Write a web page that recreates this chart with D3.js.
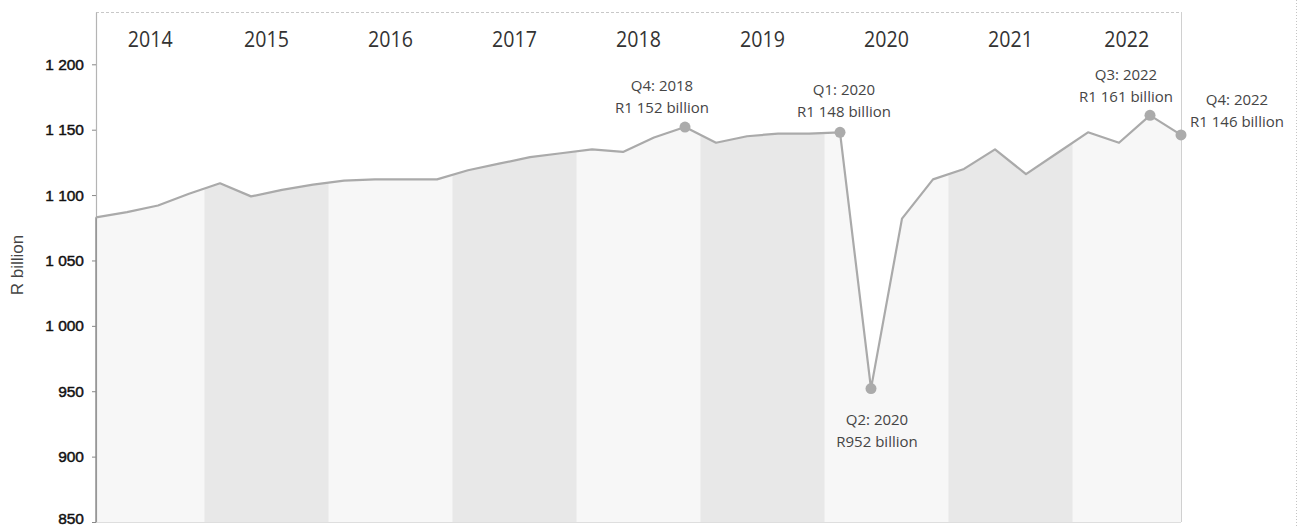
<!DOCTYPE html>
<html>
<head>
<meta charset="utf-8">
<script src="https://cdn.jsdelivr.net/npm/d3@7"></script>
<style>
  html, body { margin: 0; padding: 0; background: #ffffff; }
  svg { display: block; }
</style>
</head>
<body>
<svg id="chart" width="1302" height="528"></svg>
<script>
// Real GDP, quarterly, R billion (constant prices)
const years = [2014, 2015, 2016, 2017, 2018, 2019, 2020, 2021, 2022];
const quarterNames = ["Q1", "Q2", "Q3", "Q4"];
const gdpValues = [
  1083, 1087, 1092, 1101,   // 2014
  1109, 1099, 1104, 1108,   // 2015
  1111, 1112, 1112, 1112,   // 2016
  1119, 1124, 1129, 1132,   // 2017
  1135, 1133, 1144, 1152,   // 2018
  1140, 1145, 1147, 1147,   // 2019
  1148,  952, 1082, 1112,   // 2020
  1120, 1135, 1116, 1132,   // 2021
  1148, 1140, 1161, 1146    // 2022
];
const yTicks = [850, 900, 950, 1000, 1050, 1100, 1150, 1200];
const shadedYears = [2015, 2017, 2019, 2021];
const calloutKeys = ["Q4: 2018", "Q1: 2020", "Q2: 2020", "Q3: 2022", "Q4: 2022"];

// quarter records
const quarters = [];
years.forEach(yr => quarterNames.forEach(q => quarters.push({ year: yr, q, key: q + ": " + yr })));
const data = quarters.map((d, i) => ({ ...d, value: gdpValues[i] }));

const svg = d3.select("#chart");
const W = 1302, H = 528;
const plot = { left: 96, right: 1181, top: 12, bottom: 522 };

const x = d3.scalePoint().domain(data.map(d => d.key)).range([plot.left, plot.right]);
const y = d3.scaleLinear().domain([850, 1240]).range([plot.bottom, plot.top]);
const step = x.step();

const locale = d3.formatLocale({ decimal: ".", thousands: " ", grouping: [3], currency: ["R", ""] });
const fmt = locale.format(",d");

svg.append("rect").attr("width", W).attr("height", H).attr("fill", "#ffffff");

// area under the line
const area = d3.area()
  .x(d => x(d.key))
  .y0(plot.bottom)
  .y1(d => y(d.value));

const defs = svg.append("defs");
defs.append("clipPath").attr("id", "underLine")
  .append("path").attr("d", area(data));

svg.append("path")
  .attr("d", area(data))
  .attr("fill", "#f7f7f7");

// year bands
function yearExtent(yr) {
  const ds = data.filter(d => d.year === yr);
  const x0 = Math.max(plot.left, x(ds[0].key) - step / 2);
  const x1 = Math.min(plot.right, x(ds[ds.length - 1].key) + step / 2);
  return [x0, x1];
}

svg.append("g").attr("clip-path", "url(#underLine)")
  .selectAll("rect")
  .data(shadedYears)
  .join("rect")
  .attr("x", d => yearExtent(d)[0])
  .attr("width", d => yearExtent(d)[1] - yearExtent(d)[0])
  .attr("y", plot.top)
  .attr("height", plot.bottom - plot.top)
  .attr("fill", "#e8e8e8");

// frame
svg.append("line")
  .attr("x1", plot.left).attr("x2", plot.right)
  .attr("y1", plot.top + 0.5).attr("y2", plot.top + 0.5)
  .attr("stroke", "#c8c8c8").attr("stroke-dasharray", "3,2");
svg.append("line")
  .attr("x1", plot.right + 0.5).attr("x2", plot.right + 0.5)
  .attr("y1", plot.top).attr("y2", plot.bottom)
  .attr("stroke", "#d0d0d0");
svg.append("line")
  .attr("x1", plot.left).attr("x2", plot.right)
  .attr("y1", plot.bottom + 0.5).attr("y2", plot.bottom + 0.5)
  .attr("stroke", "#dedede");
svg.append("line")
  .attr("x1", 1296.5).attr("x2", 1296.5)
  .attr("y1", 0).attr("y2", H)
  .attr("stroke", "#c4c4c4").attr("stroke-dasharray", "1,2");

// y axis
const yAxis = svg.append("g")
  .attr("transform", `translate(${plot.left},0)`)
  .call(d3.axisLeft(y).tickValues(yTicks).tickFormat(fmt).tickSize(4).tickSizeOuter(0).tickPadding(8));
yAxis.select(".domain").attr("stroke", "#b4b4b4").attr("stroke-width", 1.2);
yAxis.selectAll(".tick line").attr("stroke", "#888");
yAxis.selectAll(".tick text")
  .attr("font-family", "'Liberation Sans', Arial, sans-serif")
  .attr("font-size", 15.5)
  .attr("fill", "#111")
  .attr("stroke", "#111")
  .attr("stroke-width", 0.45)
  .attr("dy", d => d === yTicks[0] ? "0.1em" : "0.32em");

// darker left edge below the series start
svg.append("line")
  .attr("x1", plot.left).attr("x2", plot.left)
  .attr("y1", y(data[0].value)).attr("y2", plot.bottom)
  .attr("stroke", "#8c8c8c").attr("stroke-width", 1.4);

svg.append("text")
  .attr("transform", "translate(17,265) rotate(-90)")
  .attr("text-anchor", "middle")
  .attr("dy", "0.35em")
  .attr("font-family", "'Liberation Sans', Arial, sans-serif")
  .attr("font-size", 17)
  .attr("fill", "#444")
  .text("R billion");

// year labels, centred in the visible part of each year
const yearLabels = svg.append("g").selectAll("text")
  .data(years)
  .join("text")
  .attr("x", d => (yearExtent(d)[0] + yearExtent(d)[1]) / 2)
  .attr("y", 46.5)
  .attr("text-anchor", "middle")
  .attr("font-family", "'Open Sans', sans-serif")
  .attr("font-size", 22)
  .attr("fill", "#333")
  .text(d => d);
yearLabels.each(function () {
  const len = this.getComputedTextLength();
  d3.select(this).attr("textLength", len * 0.89).attr("lengthAdjust", "spacingAndGlyphs");
});

// line
svg.append("path")
  .datum(data)
  .attr("d", d3.line().x(d => x(d.key)).y(d => y(d.value)))
  .attr("fill", "none")
  .attr("stroke", "#aaaaaa")
  .attr("stroke-width", 2.2)
  .attr("stroke-linejoin", "round");

// highlighted quarters
const callouts = data.filter(d => calloutKeys.includes(d.key));
svg.append("g").selectAll("circle")
  .data(callouts)
  .join("circle")
  .attr("cx", d => x(d.key))
  .attr("cy", d => y(d.value))
  .attr("r", 5.5)
  .attr("fill", "#ababab");

// label placement relative to each marker
const place = {
  "Q4: 2018": [-23, -36],
  "Q1: 2020": [4, -37],
  "Q2: 2020": [6, 36],
  "Q3: 2022": [-24, -35],
  "Q4: 2022": [56, -30]
};
const labels = svg.append("g").selectAll("text")
  .data(callouts)
  .join("text")
  .attr("text-anchor", "middle")
  .attr("font-family", "'Open Sans', sans-serif")
  .attr("font-size", 15)
  .attr("fill", "#454545")
  .attr("transform", d => `translate(${x(d.key) + place[d.key][0]},${y(d.value) + place[d.key][1]})`);
labels.append("tspan").attr("x", 0).attr("y", 0).text(d => d.key);
labels.append("tspan").attr("x", 0).attr("y", 22).text(d => "R" + fmt(d.value) + " billion");
</script>
</body>
</html>
